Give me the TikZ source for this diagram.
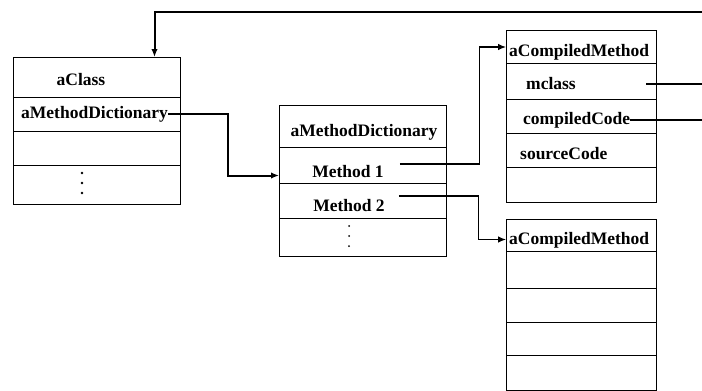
\documentclass[tikz,border=0pt]{standalone}
\usepackage{fontspec}
\setmainfont{Liberation Serif}
\usetikzlibrary{arrows.meta}

\tikzset{
  cell/.style={draw, line width=1pt, anchor=north west, inner sep=0pt},
  wide/.style={cell, minimum width=167pt},
  narrow/.style={cell, minimum width=150pt},
  lbl/.style={inner sep=0pt, font=\bfseries\fontsize{17.5}{19}\selectfont},
  conn/.style={line width=2pt},
  link/.style={line width=1.1pt},
  tip/.style={-{Latex[length=8pt,width=6.5pt]}}
}

\begin{document}
\begin{tikzpicture}[x=1pt,y=-1pt]
        \useasboundingbox (0,0) rectangle (702,391);
        % aClass
        \node[wide, minimum height=40pt] (cls-1) at (13,57) {};
        \node[wide, minimum height=34pt] (cls-2) at (13,97) {};
        \node[wide, minimum height=34pt] (cls-3) at (13,131) {};
        \node[wide, minimum height=39pt] (cls-4) at (13,165) {};
        \node[lbl] (cls-name) at (81,80) {aClass};
        \node[lbl, anchor=west] (cls-dict) at (21,114) {aMethodDictionary};
        \foreach \y in {173,183,193} \fill (82,\y) circle (1.3pt);
        % aMethodDictionary
        \node[wide, minimum height=42pt] (md-1) at (279,105) {};
        \node[wide, minimum height=36pt] (md-2) at (279,147) {};
        \node[wide, minimum height=35pt] (md-3) at (279,183) {};
        \node[wide, minimum height=38pt] (md-4) at (279,218) {};
        \node[lbl] (md-name) at (364,132) {aMethodDictionary};
        \node[lbl] (md-m1) at (348,172) {Method 1};
        \node[lbl] (md-m2) at (349,206) {Method 2};
        \foreach \y in {226,236,246} \fill (349,\y) circle (1pt);
        % first aCompiledMethod
        \node[narrow, minimum height=33pt] (cm1-1) at (506,30) {};
        \node[narrow, minimum height=36pt] (cm1-2) at (506,63) {};
        \node[narrow, minimum height=34pt] (cm1-3) at (506,99) {};
        \node[narrow, minimum height=34pt] (cm1-4) at (506,133) {};
        \node[narrow, minimum height=35pt] (cm1-5) at (506,167) {};
        \node[lbl, anchor=west] (cm1-name) at (509,52) {aCompiledMethod};
        \node[lbl, anchor=west] (cm1-class) at (526,84) {mclass};
        \node[lbl, anchor=west] (cm1-code) at (523,120) {compiledCode};
        \node[lbl, anchor=west] (cm1-src) at (520,154) {sourceCode};
        % second aCompiledMethod
        \node[narrow, minimum height=32pt] (cm2-1) at (506,219) {};
        \node[narrow, minimum height=37pt] (cm2-2) at (506,251) {};
        \node[narrow, minimum height=34pt] (cm2-3) at (506,288) {};
        \node[narrow, minimum height=33pt] (cm2-4) at (506,322) {};
        \node[narrow, minimum height=35pt] (cm2-5) at (506,355) {};
        \node[lbl, anchor=west] (cm2-name) at (509,240) {aCompiledMethod};
        % connectors
        \coordinate (edge) at (702,0);
        \coordinate (back) at (702,12);
        \draw[conn, tip] (back) -| ([xshift=57.5pt]cls-1.north);
        \draw[conn, tip] (cls-dict.east) -- ++(60,0) |- ([yshift=-10pt]md-2.west);
        \draw[link, tip] ([xshift=16pt,yshift=8pt]md-m1.east) -- ++(80,0) |- (cm1-1.west);
        \draw[link, tip] ([xshift=14pt,yshift=10pt]md-m2.east) -- ++(80,0) |- ([yshift=-4pt]cm2-1.west);
        \draw[conn] ([xshift=-11pt,yshift=-2pt]cm1-2.east) -- ([yshift=-2pt]cm1-2.east -| edge);
        \draw[conn] (cm1-code.east) -- (cm1-code.east -| edge);
    \end{tikzpicture}
\end{document}
